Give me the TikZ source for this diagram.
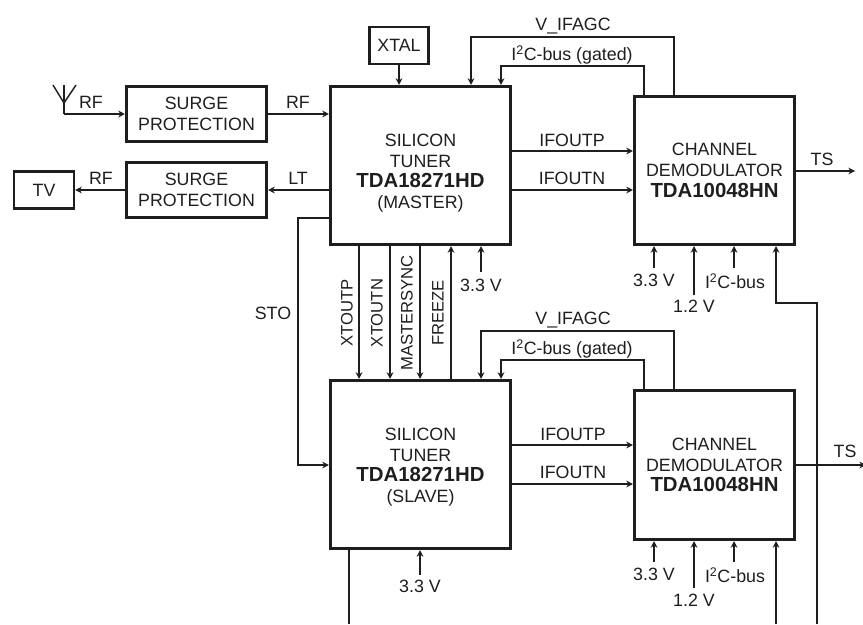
\documentclass[tikz,border=0pt]{standalone}
\usepackage{fontspec}
\setmainfont{Liberation Sans}
\usepackage{xcolor}
\usetikzlibrary{arrows.meta,calc}
\definecolor{BoardDark}{HTML}{1E1E1E}
\newcommand{\boxfont}{\fontsize{15.2}{17.6}\selectfont}
\newcommand{\partno}[1]{{\fontsize{17.4}{17.6}\selectfont\textbf{#1}}}
\tikzset{
  chipbox/.style={draw=BoardDark,line width=2.6pt,minimum width=#1,inner sep=0pt,align=center,font=\boxfont,text=BoardDark},
  smallbox/.style={draw=BoardDark,line width=2pt,inner sep=0pt,font=\boxfont,text=BoardDark},
  sigtext/.style={font=\boxfont,text=BoardDark,inner sep=0pt},
  risetext/.style={font=\fontsize{14.2}{17}\selectfont,text=BoardDark,inner sep=0pt,rotate=90},
  chiptext/.style={font=\boxfont,text=BoardDark,inner sep=0pt,align=center},
  sigwire/.style={line width=1.2pt,draw=BoardDark},
  sigarrow/.style={-{Stealth[length=2mm,width=2mm]},line width=1.2pt,draw=BoardDark}
}
\begin{document}
\begin{tikzpicture}[x=0.3mm,y=-0.3mm]
\useasboundingbox (0,0) rectangle (863,624);
% boxes
\node[chipbox=140*0.3mm,minimum height=55*0.3mm] (surgeA) at (196.5,114) {SURGE\\PROTECTION};
\node[chipbox=140*0.3mm,minimum height=55*0.3mm] (surgeB) at (196.5,190) {SURGE\\PROTECTION};
\node[smallbox,minimum width=60*0.3mm,minimum height=37*0.3mm] (tv) at (44,190) {TV};
\node[smallbox,minimum width=59*0.3mm,minimum height=37*0.3mm] (xtal) at (399,45.5) {XTAL};
\node[chipbox=180*0.3mm,minimum height=158*0.3mm] (tunerA) at (420.5,165.5) {};
\node[chipbox=180*0.3mm,minimum height=168*0.3mm] (tunerB) at (420.5,464.5) {};
\node[chipbox=160*0.3mm,minimum height=148*0.3mm] (demodA) at (714.5,170.5) {CHANNEL\\DEMODULATOR\\\partno{TDA10048HN}};
\node[chipbox=160*0.3mm,minimum height=149*0.3mm] (demodB) at (714.5,465) {CHANNEL\\DEMODULATOR\\\partno{TDA10048HN}};
\node[chiptext] (tunerAtext) at (420.5,173) {SILICON\\TUNER\\\partno{TDA18271HD}\\(MASTER)};
\node[chiptext] (tunerBtext) at (420.5,467) {SILICON\\TUNER\\\partno{TDA18271HD}\\(SLAVE)};
% free ends
\coordinate (antfoot) at (64,114);
\coordinate (anttop) at (64,85);
\coordinate (tsA) at (855,171);
\coordinate (tsB) at (866,465);
\coordinate (stoturn) at (298,218);
\coordinate (bustop) at (817,303);
\coordinate (busend) at (817,624);
\coordinate (busslave) at (349,624);
\coordinate (busdemod) at (776,624);
% antenna
\draw[sigwire] (53,85) -- (64,103) -- (76,85);
\draw[sigwire] (anttop) -- (antfoot);
\draw[sigarrow] (antfoot) -- (surgeA.west |- antfoot);
% left side
\draw[sigarrow] (surgeA.east) -- (tunerA.west |- surgeA.east);
\draw[sigarrow] (tunerA.west |- surgeB.east) -- (surgeB.east);
\draw[sigarrow] (surgeB.west) -- (tv.east);
\draw[sigarrow] (xtal.south) -- (tunerA.north -| xtal.south);
\draw[sigarrow] (tunerA.west |- stoturn) -- (stoturn) |- (tunerB.west |- 0,465);
% between the tuners
\foreach \xp in {359,390,420}
  \draw[sigarrow] (tunerA.south -| \xp,0) -- (tunerB.north -| \xp,0);
\draw[sigarrow] (tunerB.north -| 451,0) -- (tunerA.south -| 451,0);
% IF outputs
\draw[sigarrow] (tunerA.east |- 0,151) -- (demodA.west |- 0,151);
\draw[sigarrow] (tunerA.east |- 0,190) -- (demodA.west |- 0,190);
\draw[sigarrow] (tunerB.east |- 0,445) -- (demodB.west |- 0,445);
\draw[sigarrow] (tunerB.east |- 0,484) -- (demodB.west |- 0,484);
% feedback
\draw[sigarrow] (demodA.north -| 674,0) |- (471,37) -- (tunerA.north -| 471,0);
\draw[sigarrow] (demodA.north -| 644,0) |- (501,66) -- (tunerA.north -| 501,0);
\draw[sigarrow] (demodB.north -| 674,0) |- (481,331) -- (tunerB.north -| 481,0);
\draw[sigarrow] (demodB.north -| 644,0) |- (501,360) -- (tunerB.north -| 501,0);
% outputs
\draw[sigarrow] (demodA.east |- tsA) -- (tsA);
\draw[sigarrow] (demodB.east |- tsB) -- (tsB);
% supplies
\draw[sigarrow] (481,272) -- (tunerA.south -| 481,0);
\draw[sigarrow] (420,575) -- (tunerB.south -| 420,0);
\foreach \xp/\yp in {654/268,694/295,734/268}
  \draw[sigarrow] (\xp,\yp) -- (demodA.south -| \xp,0);
\foreach \xp/\yp in {654/562,694/588,734/562}
  \draw[sigarrow] (\xp,\yp) -- (demodB.south -| \xp,0);
% bus
\draw[sigarrow] (busend) -- (bustop) -| (demodA.south -| 776,0);
\draw[sigwire] (tunerB.south -| busslave) -- (busslave);
\draw[sigarrow] (busdemod) -- (demodB.south -| busdemod);
% labels
\node[sigtext] (rfA) at (91,102) {RF};
\node[sigtext] (rfB) at (298,102) {RF};
\node[sigtext] (rfC) at (101,178) {RF};
\node[sigtext] (lt) at (298,178) {LT};
\node[sigtext] (sto) at (273,313) {STO};
\node[risetext] (xtoutp) at (347,313) {XTOUTP};
\node[risetext] (xtoutn) at (377,313) {XTOUTN};
\node[risetext] (mastersync) at (407,313) {MASTERSYNC};
\node[risetext] (freeze) at (438,313) {FREEZE};
\node[sigtext] (agcA) at (573,26) {V\_IFAGC};
\node[sigtext] (gatedA) at (572,55) {I\textsuperscript{2}C-bus (gated)};
\node[sigtext] (agcB) at (573,320) {V\_IFAGC};
\node[sigtext] (gatedB) at (572,349) {I\textsuperscript{2}C-bus (gated)};
\node[sigtext] (outpA) at (572,140) {IFOUTP};
\node[sigtext] (outnA) at (572,178) {IFOUTN};
\node[sigtext] (outpB) at (573,434) {IFOUTP};
\node[sigtext] (outnB) at (573,472) {IFOUTN};
\node[sigtext] (tslabelA) at (822,159) {TS};
\node[sigtext] (tslabelB) at (845,451) {TS};
\node[sigtext] (vtunerA) at (481,285) {3.3 V};
\node[sigtext] (vtunerB) at (420,586) {3.3 V};
\node[sigtext] (vhighA) at (654,280) {3.3 V};
\node[sigtext] (vlowA) at (694,306) {1.2 V};
\node[sigtext] (busA) at (735,281) {I\textsuperscript{2}C-bus};
\node[sigtext] (vhighB) at (654,574) {3.3 V};
\node[sigtext] (vlowB) at (694,600) {1.2 V};
\node[sigtext] (busB) at (735,575) {I\textsuperscript{2}C-bus};
\end{tikzpicture}
\end{document}
